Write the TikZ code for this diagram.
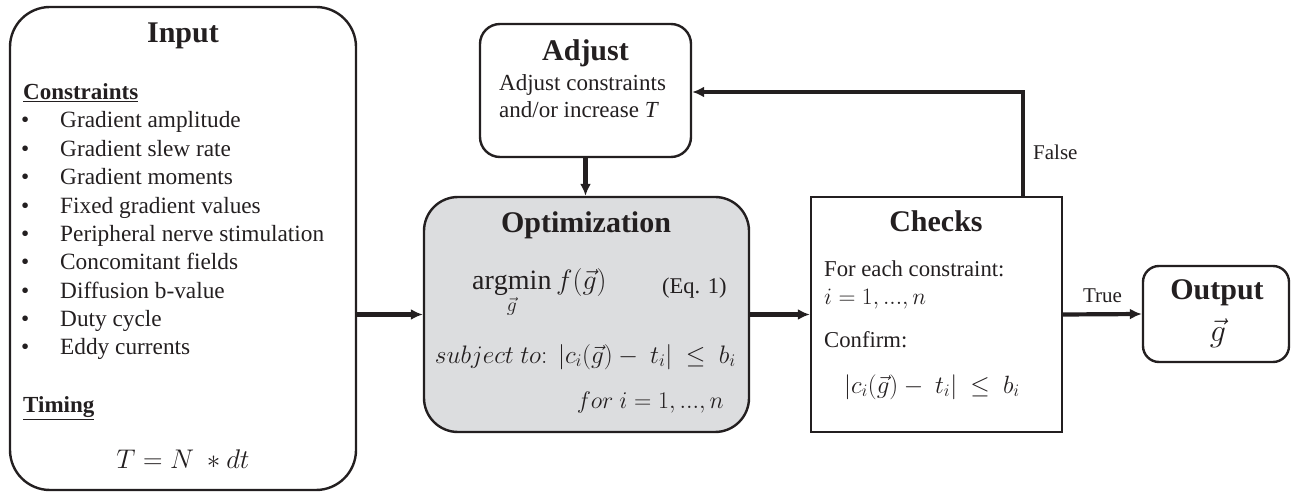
\RequirePackage{fix-cm}
\documentclass[tikz,border=0pt]{standalone}
\usepackage{fontspec}
\setmainfont{Liberation Serif}
\usetikzlibrary{arrows.meta}
\definecolor{ink}{HTML}{231F20}
\definecolor{optfill}{HTML}{DCDDDF}
\newcommand{\fs}[1]{\fontsize{#1}{#1}\selectfont}
\newcommand{\tdots}{{\ldotp}{\ldotp}{\ldotp}}
\tikzset{
  box/.style={draw=ink, line width=2.4pt, inner sep=0pt, anchor=center},
  arr/.style={draw=ink, line width=4.2pt, -{Latex[length=12pt,width=11pt]}},
  title/.style={font=\fs{30}\bfseries, text=ink, inner sep=0pt, anchor=base},
  body/.style={font=\fs{23.3}, text=ink, inner sep=0pt, anchor=base west},
  lbl/.style={font=\fs{21}, text=ink, inner sep=0pt},
}
\begin{document}
\begin{tikzpicture}[x=1pt, y=-1pt]
\useasboundingbox (0,0) rectangle (1291,494);

% boxes
\node[box, rounded corners=40pt, minimum width=346pt, minimum height=483pt] (input) at (183,248.5) {};
\node[box, rounded corners=20pt, minimum width=211pt, minimum height=133pt] (adjust) at (585.5,90.5) {};
\node[box, rounded corners=34pt, fill=optfill, minimum width=325pt, minimum height=235pt] (opt) at (586.5,314.5) {};
\node[box, minimum width=251pt, minimum height=235pt] (checks) at (936.5,314.5) {};
\node[box, rounded corners=16pt, minimum width=146pt, minimum height=96pt] (output) at (1216,314) {};

% input contents
\node[title] (inputT) at (183,43) {Input};
\node[body, font=\fs{23}\bfseries] (constrT) at (23,100) {\underline{Constraints}};
\foreach \t [count=\k from 0] in {Gradient amplitude, Gradient slew rate, Gradient moments,
  Fixed gradient values, Peripheral nerve stimulation, Concomitant fields,
  Diffusion b-value, Duty cycle, Eddy currents}{
  \node[body] (bul\k) at (21,128+28.35*\k) {\textbullet};
  \node[body] (item\k) at (60,128+28.35*\k) {\t};
}
\node[body, font=\fs{23}\bfseries] (timingT) at (23,413) {\underline{Timing}};
\node[body, font=\fs{27}, anchor=base] (timing) at (183,468) {$T = N\ \ast dt$};

% adjust contents
\node[title] (adjustT) at (585.5,61) {Adjust};
\node[body, font=\fs{23}] (adj1) at (499,91) {Adjust constraints};
\node[body, font=\fs{23}] (adj2) at (499,118) {and/or increase \textit{T}};

% optimization contents
\node[title] (optT) at (586,233) {Optimization};
\node[body, font=\fs{28}] (argmin) at (472,290) {$\displaystyle\mathop{\mathrm{argmin}}_{\vec g} f(\vec g)$};
\node[body, font=\fs{22.5}] (eq) at (662,294) {(Eq. 1)};
\node[body, font=\fs{25.3}, anchor=base east] (subj) at (736,363) {$subject\ to\colon\ |c_i(\vec g) -\ t_i|\ \le\ b_i$};
\node[body, font=\fs{24}, anchor=base east] (fori) at (724,408) {$for\ i = 1, \tdots, n$};

% checks contents
\node[title] (checksT) at (936,232) {Checks};
\node[body, font=\fs{22.7}] (chk1) at (824,277) {For each constraint:};
\node[body, font=\fs{23.5}] (chk2) at (824,305) {$i = 1, \tdots, n$};
\node[body, font=\fs{22.7}] (chk3) at (824,348) {Confirm:};
\node[body, font=\fs{25}, anchor=base] (chk4) at (932,393) {$|c_i(\vec g) -\ t_i|\ \le\ b_i$};

% output contents
\node[title] (outT) at (1217,300) {Output};
\node[lbl, font=\fs{32}] (outg) at (1218,333) {$\vec g$};

% connectors
\draw[arr] (input.east |- opt.west) -- (opt.west);
\draw[arr] (adjust.south) -- (adjust.south |- opt.north);
\draw[arr] (opt.east) -- (checks.west);
\draw[arr] (checks.east) -- node[lbl, above=9pt] (trueL) {True} (output.west);
\coordinate (fb) at (1023,92);
\draw[arr] (checks.north -| fb) -- (fb) -- (fb -| adjust.east);
\node[lbl, anchor=base west] (falseL) at (1033,160) {False};
\end{tikzpicture}
\end{document}
